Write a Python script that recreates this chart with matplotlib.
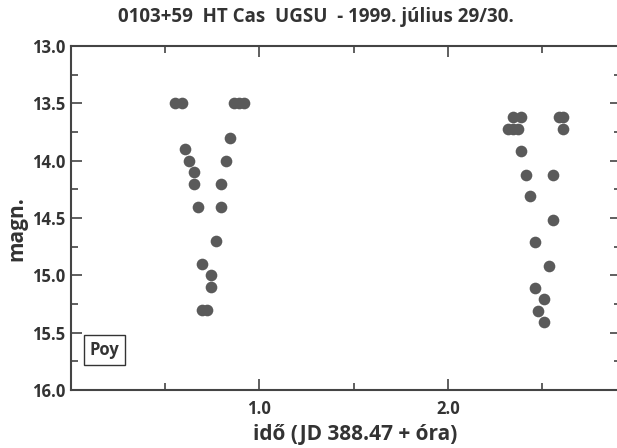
import numpy as np
import matplotlib.pyplot as plt
from matplotlib.ticker import MultipleLocator, FixedLocator

plt.rcParams['font.family'] = ['Open Sans', 'DejaVu Sans']

# first dip (hours, magnitude)
t1 = [0.55, 0.59, 0.866, 0.892, 0.919, 0.606, 0.625, 0.651, 0.651, 0.674,
      0.695, 0.745, 0.745, 0.697, 0.724, 0.77, 0.794, 0.794, 0.822, 0.845]
m1 = [13.5, 13.5, 13.5, 13.5, 13.5, 13.9, 14.0, 14.1, 14.2, 14.4,
      14.9, 15.0, 15.1, 15.3, 15.3, 14.7, 14.4, 14.2, 14.0, 13.8]

# second dip
t2 = [2.345, 2.389, 2.587, 2.613, 2.319, 2.345, 2.372, 2.613, 2.389, 2.412,
      2.56, 2.437, 2.56, 2.46, 2.534, 2.46, 2.508, 2.48, 2.508]
m2 = [13.62, 13.62, 13.62, 13.62, 13.72, 13.72, 13.72, 13.72, 13.915, 14.12,
      14.12, 14.31, 14.52, 14.71, 14.92, 15.11, 15.21, 15.31, 15.41]

xticklab = [1.0, 2.0]

fig = plt.figure(figsize=(6.17, 4.48), dpi=100)
ax = fig.add_axes([0.115, 0.1295, 0.892, 0.7675])

ax.plot(t1, m1, 'o', color='#5a5a5a', markersize=8.4, markeredgewidth=0)
ax.plot(t2, m2, 'o', color='#5a5a5a', markersize=8.4, markeredgewidth=0)

ax.set_xlim(0, 2.92)
ax.set_ylim(16.0, 13.0)

ax.xaxis.set_major_locator(FixedLocator(xticklab))
ax.xaxis.set_minor_locator(FixedLocator([0.5, 1.5, 2.5]))
ax.yaxis.set_major_locator(MultipleLocator(0.5))
ax.yaxis.set_minor_locator(MultipleLocator(0.25))
ax.set_xticklabels(['%.1f' % v for v in xticklab])
ax.set_yticklabels(['%.1f' % v for v in ax.get_yticks()])

ax.tick_params(which='both', direction='in', top=True, right=True,
               color='#444444', width=1.2, labelsize=12, labelcolor='#333333')
ax.tick_params(which='major', length=8)
ax.tick_params(which='minor', length=5)
ax.tick_params(axis='x', pad=7)
ax.tick_params(axis='y', pad=4)
for lab in ax.get_xticklabels() + ax.get_yticklabels():
    lab.set_fontweight('bold')

for s in ax.spines.values():
    s.set_color('#444444')
    s.set_linewidth(1.5)

fig.text(0.027, 0.49, 'magn.', rotation=90, ha='center', va='center',
         fontsize=15, fontweight='bold', color='#333333')
fig.text(0.575, 0.03, 'idő (JD 388.47 + óra)', ha='center', va='center',
         fontsize=15, fontweight='bold', color='#333333')

fig.text(0.512, 0.962, '0103+59  HT Cas  UGSU  - 1999. július 29/30.',
         ha='center', va='center', fontsize=13.5, fontweight='bold', color='#333333')

ax.text(0.1, 15.65, 'Poy', fontsize=12, fontweight='bold', color='#333333',
        va='center', ha='left',
        bbox=dict(boxstyle='square,pad=0.35', facecolor='white', edgecolor='#333333', linewidth=1))

fig.savefig('out.png', dpi=100)
